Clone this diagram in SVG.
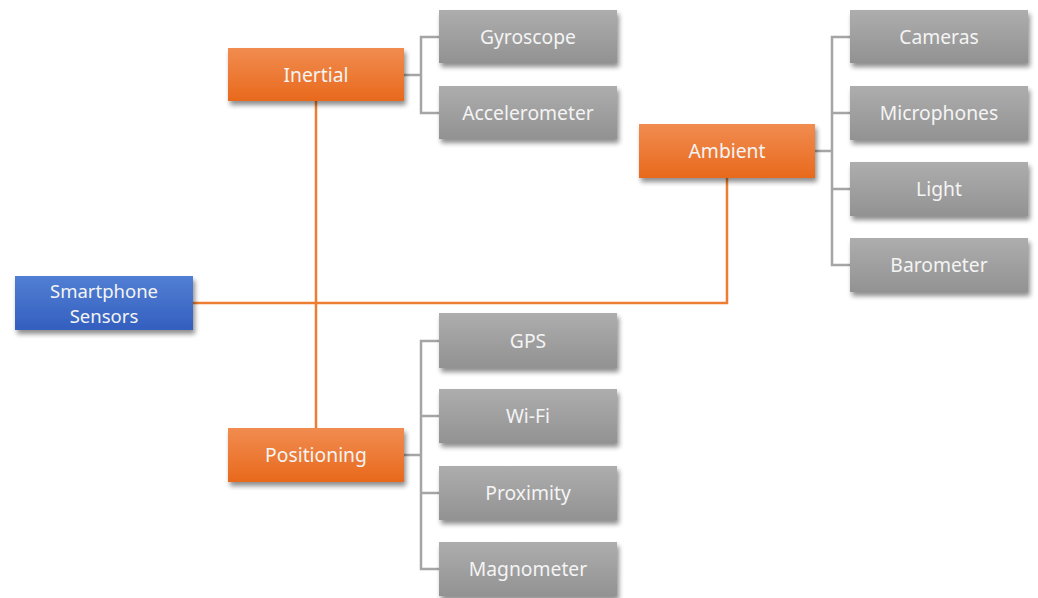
<svg xmlns="http://www.w3.org/2000/svg" width="1038" height="598" viewBox="0 0 1038 598">
<defs>
<linearGradient id="gOr" x1="0" y1="0" x2="0" y2="1"><stop offset="0" stop-color="#f18c50"/><stop offset="1" stop-color="#e8691c"/></linearGradient>
<linearGradient id="gBl" x1="0" y1="0" x2="0" y2="1"><stop offset="0" stop-color="#527fd4"/><stop offset="1" stop-color="#335fbf"/></linearGradient>
<linearGradient id="gGr" x1="0" y1="0" x2="0" y2="1"><stop offset="0" stop-color="#adadad"/><stop offset="1" stop-color="#929292"/></linearGradient>
<filter id="sh" x="-10%" y="-20%" width="125%" height="160%"><feGaussianBlur in="SourceAlpha" stdDeviation="2.5"/><feOffset dx="2" dy="4"/><feComponentTransfer><feFuncA type="linear" slope="0.45"/></feComponentTransfer><feMerge><feMergeNode/><feMergeNode in="SourceGraphic"/></feMerge></filter>
</defs>
<style>
text{font-family:"Noto Sans","Open Sans",sans-serif;font-size:19.3px;fill:#f4f4f4;text-anchor:middle;dominant-baseline:central}
.two{font-size:18.5px}
.or{fill:url(#gOr);filter:url(#sh)}
.bl{fill:url(#gBl);filter:url(#sh)}
.gr{fill:url(#gGr);filter:url(#sh)}
.co{fill:none;stroke:#ed7d31;stroke-width:2.5}
.cg{fill:none;stroke:#a5a5a5;stroke-width:2.5}
</style>
<rect width="1038" height="598" fill="#ffffff"/>
<g id="connectors">
<path class="co" d="M193,303 H727 V178"/>
<path class="co" d="M316,101 V428"/>
<path class="cg" d="M404,75 H421 M439,37 H421 V113 H439"/>
<path class="cg" d="M815,151 H832 M850,37 H832 V265 H850 M832,113 H850 M832,189 H850"/>
<path class="cg" d="M404,455 H421 M439,341 H421 V569 H439 M421,416 H439 M421,493 H439"/>
</g>
<g id="root"><rect class="bl" x="15" y="276" width="178" height="54"/><text class="two" x="104" y="290">Smartphone</text><text class="two" x="104" y="315.5">Sensors</text></g>
<g id="inertial"><rect class="or" x="228" y="48" width="176" height="53"/><text x="316" y="74">Inertial</text></g>
<g id="ambient"><rect class="or" x="639" y="124" width="176" height="54"/><text x="727" y="150">Ambient</text></g>
<g id="positioning"><rect class="or" x="228" y="428" width="176" height="54"/><text x="316" y="454">Positioning</text></g>
<g id="gyroscope"><rect class="gr" x="439" y="10" width="178" height="53"/><text x="528" y="36">Gyroscope</text></g>
<g id="accelerometer"><rect class="gr" x="439" y="86" width="178" height="53"/><text x="528" y="112">Accelerometer</text></g>
<g id="cameras"><rect class="gr" x="850" y="10" width="178" height="53"/><text x="939" y="36">Cameras</text></g>
<g id="microphones"><rect class="gr" x="850" y="86" width="178" height="54"/><text x="939" y="112">Microphones</text></g>
<g id="light"><rect class="gr" x="850" y="162" width="178" height="54"/><text x="939" y="188">Light</text></g>
<g id="barometer"><rect class="gr" x="850" y="238" width="178" height="54"/><text x="939" y="264">Barometer</text></g>
<g id="gps"><rect class="gr" x="439" y="313" width="178" height="55"/><text x="528" y="340">GPS</text></g>
<g id="wifi"><rect class="gr" x="439" y="389" width="178" height="54"/><text x="528" y="415">Wi-Fi</text></g>
<g id="proximity"><rect class="gr" x="439" y="466" width="178" height="54"/><text x="528" y="492">Proximity</text></g>
<g id="magnometer"><rect class="gr" x="439" y="542" width="178" height="54"/><text x="528" y="568">Magnometer</text></g>
</svg>
